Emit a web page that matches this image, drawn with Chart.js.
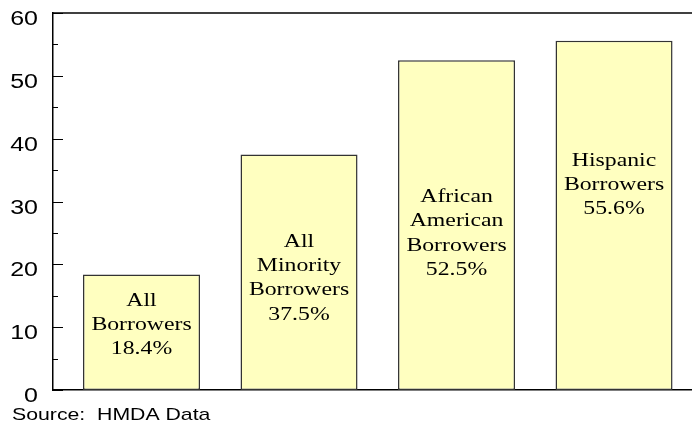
<!DOCTYPE html>
<html>
<head>
<meta charset="utf-8">
<script src="https://cdn.jsdelivr.net/npm/chart.js@4"></script>
<style>
    html, body { margin: 0; padding: 0; background: #fff; }
    #wrap { width: 692px; height: 422px; }
</style>
</head>
<body>
<div id="wrap"><canvas id="borrowerChart" width="692" height="422"></canvas></div>
<script>
const categories = [
    ['All', 'Borrowers'],
    ['All', 'Minority', 'Borrowers'],
    ['African', 'American', 'Borrowers'],
    ['Hispanic', 'Borrowers']
];
const rates = [18.4, 37.5, 52.5, 55.6];
const yTickLabels = ['0', '10', '20', '30', '40', '50', '60'];
const sourceNote = 'Source:  HMDA Data';

// the original picture is stretched sideways, so text gets widened too
const STRETCH = 1.25;

function stretchText(ctx, text, x, y) {
    ctx.save();
    ctx.translate(x, y);
    ctx.scale(STRETCH, 1);
    ctx.fillText(text, 0, 0);
    ctx.restore();
}

const decorations = {
    id: 'decorations',
    afterDatasetsDraw(chart, args, opts) {
        const { ctx, chartArea: area, scales: { y } } = chart;
        ctx.save();

        // top frame line
        ctx.strokeStyle = '#000';
        ctx.lineWidth = 1.5;
        ctx.beginPath();
        ctx.moveTo(area.left, area.top);
        ctx.lineTo(area.right, area.top);
        ctx.stroke();

        // inward tick marks + labels
        ctx.lineWidth = 1;
        ctx.fillStyle = '#000';
        ctx.font = '20px "Liberation Sans", Arial, sans-serif';
        ctx.textAlign = 'right';
        ctx.textBaseline = 'alphabetic';
        yTickLabels.forEach(label => {
            const v = Number(label);
            const py = Math.round(y.getPixelForValue(v)) + 0.5;
            ctx.beginPath();
            ctx.moveTo(area.left, py);
            ctx.lineTo(area.left + 10, py);
            ctx.stroke();
            if (v + 5 < y.max) {
                const my = Math.round(y.getPixelForValue(v + 5)) + 0.5;
                ctx.beginPath();
                ctx.moveTo(area.left, my);
                ctx.lineTo(area.left + 5, my);
                ctx.stroke();
            }
            stretchText(ctx, label, area.left - 15, py + 11);
        });

        // labels inside the bars
        ctx.font = '19px "Liberation Serif", "Times New Roman", serif';
        ctx.textAlign = 'center';
        ctx.fillStyle = '#000';
        const bars = chart.getDatasetMeta(0).data;
        bars.forEach((bar, i) => {
            const lines = categories[i].concat(rates[i].toFixed(1) + '%');
            const top = y.getPixelForValue(opts.firstLine[i]);
            lines.forEach((line, k) => {
                stretchText(ctx, line, bar.x, top + k * opts.lineHeight);
            });
        });

        // source note
        ctx.font = '17px "Liberation Sans", Arial, sans-serif';
        ctx.textAlign = 'left';
        ctx.fillStyle = '#000';
        stretchText(ctx, sourceNote, 12, 420);

        ctx.restore();
    }
};

const ctx = document.getElementById('borrowerChart').getContext('2d');

const borrowerChart = new Chart(ctx, {
    type: 'bar',
    data: {
        datasets: [{
            data: rates.map((r, i) => ({ x: i, y: r })),
            backgroundColor: '#FFFFC0',
            borderColor: '#333',
            borderWidth: 1.5,
            borderSkipped: false,
            categoryPercentage: 1,
            barPercentage: 0.743
        }]
    },
    options: {
        responsive: false,
        animation: false,
        layout: { padding: { top: 13, right: 0, bottom: 32, left: 0 } },
        scales: {
            x: {
                type: 'linear',
                offset: false,
                min: -0.562,
                max: 3.495,
                // one tick per bar so the bar width comes from the bar spacing
                afterBuildTicks(scale) {
                    scale.ticks = rates.map((r, i) => ({ value: i }));
                },
                ticks: { display: false },
                grid: { display: false, drawTicks: false },
                border: { display: true, color: '#000', width: 1.5 }
            },
            y: {
                min: 0,
                max: 60,
                ticks: { display: false },
                grid: { display: false, drawTicks: false },
                border: { display: true, color: '#000', width: 1.5 },
                afterFit(scale) { scale.width = 53; }
            }
        },
        plugins: {
            legend: { display: false },
            tooltip: { enabled: false },
            decorations: {
                firstLine: [13.4, 22.8, 29.9, 35.7],
                lineHeight: 24.3
            }
        }
    },
    plugins: [decorations]
});
</script>
</body>
</html>
